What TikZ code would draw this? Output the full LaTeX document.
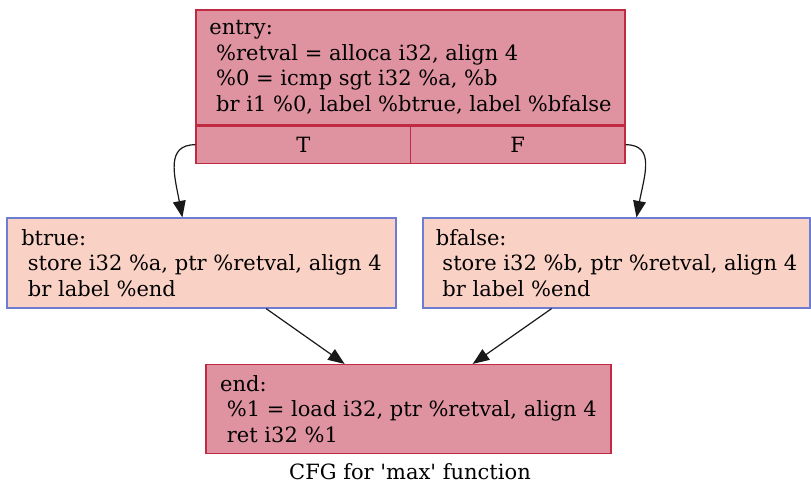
\documentclass[tikz,border=0pt]{standalone}
\usepackage{fontspec}
\setmainfont{DejaVu Serif}[Ligatures=TeXOff]
\usepackage{xcolor}
\usetikzlibrary{arrows.meta, positioning}

\definecolor{hotfill}{HTML}{DF93A0}
\definecolor{hotline}{HTML}{C02A42}
\definecolor{coolfill}{HTML}{FAD2C5}
\definecolor{coolline}{HTML}{6E7CD2}

\begin{document}
\begin{tikzpicture}[
  x=0.6667pt, y=-0.6667pt,
  font=\fontsize{14}{17}\selectfont,
  block/.style={
    rectangle,
    draw=#1,
    line width=0.8pt,
    inner xsep=4pt,
    inner ysep=0pt,
    align=left
  },
  hot/.style={block=hotline, fill=hotfill},
  cool/.style={block=coolline, fill=coolfill},
  cell/.style={
    hot,
    align=center,
    minimum width=143pt,
    minimum height=24.67pt
  },
  flow/.style={
    -{Triangle[length=11pt, width=8.5pt]},
    line width=0.8pt,
    draw=black!90
  }
]
\fill[white] (0,0) rectangle (811,496);
\useasboundingbox (0,0) rectangle (811,496);

% Basic blocks
\node[hot, minimum width=286pt, minimum height=76.67pt] (entry) at (410.5,67.5)
  {entry:\\\ \%retval = alloca i32, align 4\\\ \%0 = icmp sgt i32 \%a, \%b\\\ br i1 \%0, label \%btrue, label \%bfalse};
\node[cell, anchor=north west] (entryT) at (entry.south west) {T};
\node[cell, anchor=north east] (entryF) at (entry.south east) {F};

\node[cool, minimum width=259.3pt, minimum height=60pt] (btrue) at (201.5,263)
  {btrue:\\\ store i32 \%a, ptr \%retval, align 4\\\ br label \%end};
\node[cool, minimum width=258pt, minimum height=60pt] (bfalse) at (616.5,263)
  {bfalse:\\\ store i32 \%b, ptr \%retval, align 4\\\ br label \%end};

\node[hot, minimum width=270pt, minimum height=59.3pt] (end) at (408.5,409)
  {end:\\\ \%1 = load i32, ptr \%retval, align 4\\\ ret i32 \%1};

% Caption
\node (caption) at (410,472) {CFG for 'max' function};

% Branches
\draw[flow] (entryT.west) .. controls +(-30,0) and +(-8,-42) .. ([xshift=117.3pt]btrue.north west);
\draw[flow] (entryF.east) .. controls +(30,0) and +(8,-42) .. ([xshift=142.7pt]bfalse.north west);
\draw[flow] (btrue) -- (end);
\draw[flow] (bfalse) -- (end);
\end{tikzpicture}
\end{document}
